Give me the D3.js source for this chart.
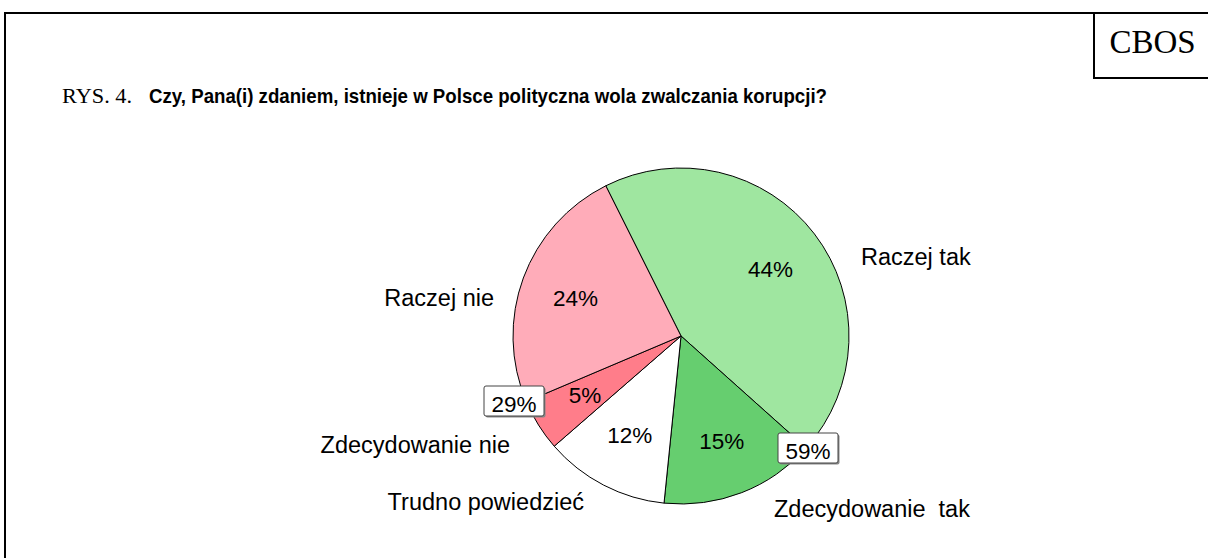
<!DOCTYPE html>
<html><head><meta charset="utf-8">
<script src="https://cdn.jsdelivr.net/npm/d3@7"></script>
<style>html,body{margin:0;padding:0;background:#fff;overflow:hidden}</style>
</head><body>
<svg id="chart" width="1208" height="558"></svg>
<script>
const categories = ["Raczej tak", "Zdecydowanie  tak", "Trudno powiedzieć", "Zdecydowanie nie", "Raczej nie"];
const values = [44, 15, 12, 5, 24];
const colors = ["#9fe6a0", "#66ce6f", "#ffffff", "#ff7d8a", "#ffacb9"];
const totals = [{label: "59%", value: 59}, {label: "29%", value: 29}];
const titlePrefix = "RYS. 4.";
const titleText = "Czy, Pana(i) zdaniem, istnieje w Polsce polityczna wola zwalczania korupcji?";
const brand = "CBOS";

const svg = d3.select("#chart");
const font = "Liberation Sans, Arial, sans-serif";
const serif = "Liberation Serif, Times New Roman, serif";
// outer frame
svg.append("rect").attr("x", 5).attr("y", 13).attr("width", 1220).attr("height", 600)
  .attr("fill", "none").attr("stroke", "#000").attr("stroke-width", 2);
// CBOS box
svg.append("rect").attr("x", 1094).attr("y", 13).attr("width", 130).attr("height", 65)
  .attr("fill", "#fff").attr("stroke", "#000").attr("stroke-width", 2);
svg.append("text").attr("x", 1152.5).attr("y", 53).attr("text-anchor", "middle")
  .attr("font-family", serif).attr("font-size", 33)
  .text(brand);
// title
svg.append("text").attr("x", 62).attr("y", 103)
  .attr("font-family", serif).attr("font-size", 21.5)
  .attr("textLength", 70).attr("lengthAdjust", "spacingAndGlyphs")
  .text(titlePrefix);
svg.append("text").attr("x", 149).attr("y", 103)
  .attr("font-family", font).attr("font-size", 20.5).attr("font-weight", "bold")
  .attr("textLength", 678).attr("lengthAdjust", "spacingAndGlyphs")
  .text(titleText);

const cx = 681, cy = 336, r = 168;
const startA = -26.6 * Math.PI / 180;
const pie = d3.pie().sort(null).startAngle(startA).endAngle(startA + 2 * Math.PI);
const arcs = pie(values);
const arc = d3.arc().innerRadius(0).outerRadius(r);
const g = svg.append("g").attr("transform", `translate(${cx},${cy})`);
g.selectAll("path").data(arcs).enter().append("path")
  .attr("d", arc).attr("fill", (d, i) => colors[i]).attr("stroke", "#000").attr("stroke-width", 1);

// percent labels inside (layout positions relative to pie centre)
const pctPos = [
  {dx: 89.5, dy: -59},
  {dx: 40.7, dy: 113.3},
  {dx: -51.3, dy: 107.3},
  {dx: -96, dy: 67},
  {dx: -105.5, dy: -30}
];
arcs.forEach((d, i) => {
  g.append("text").attr("x", pctPos[i].dx).attr("y", pctPos[i].dy)
    .attr("text-anchor", "middle").attr("font-family", font).attr("font-size", 22.5)
    .text(values[i] + "%");
});

// category labels outside
const labelPos = [
  {x: 861, y: 265, anchor: "start"},
  {x: 774, y: 516.5, anchor: "start"},
  {x: 584, y: 510, anchor: "end"},
  {x: 510, y: 453, anchor: "end"},
  {x: 494, y: 306, anchor: "end"}
];
categories.forEach((c, i) => {
  svg.append("text").attr("x", labelPos[i].x).attr("y", labelPos[i].y)
    .attr("text-anchor", labelPos[i].anchor).attr("font-family", font).attr("font-size", 23.5)
    .style("white-space", "pre").attr("xml:space", "preserve")
    .text(c);
});

// total boxes
const boxPos = [{x: 778, y: 433}, {x: 484, y: 386}];
totals.forEach((t, i) => {
  const b = boxPos[i];
  svg.append("rect").attr("x", b.x + 1.5).attr("y", b.y + 1.5).attr("width", 60).attr("height", 30)
    .attr("rx", 2).attr("fill", "#888");
  svg.append("rect").attr("x", b.x).attr("y", b.y).attr("width", 60).attr("height", 30)
    .attr("rx", 2).attr("fill", "#fff").attr("stroke", "#444").attr("stroke-width", 1);
  svg.append("text").attr("x", b.x + 30).attr("y", b.y + 25.5).attr("text-anchor", "middle")
    .attr("font-family", font).attr("font-size", 22.5).text(t.label);
});
</script>
</body></html>
